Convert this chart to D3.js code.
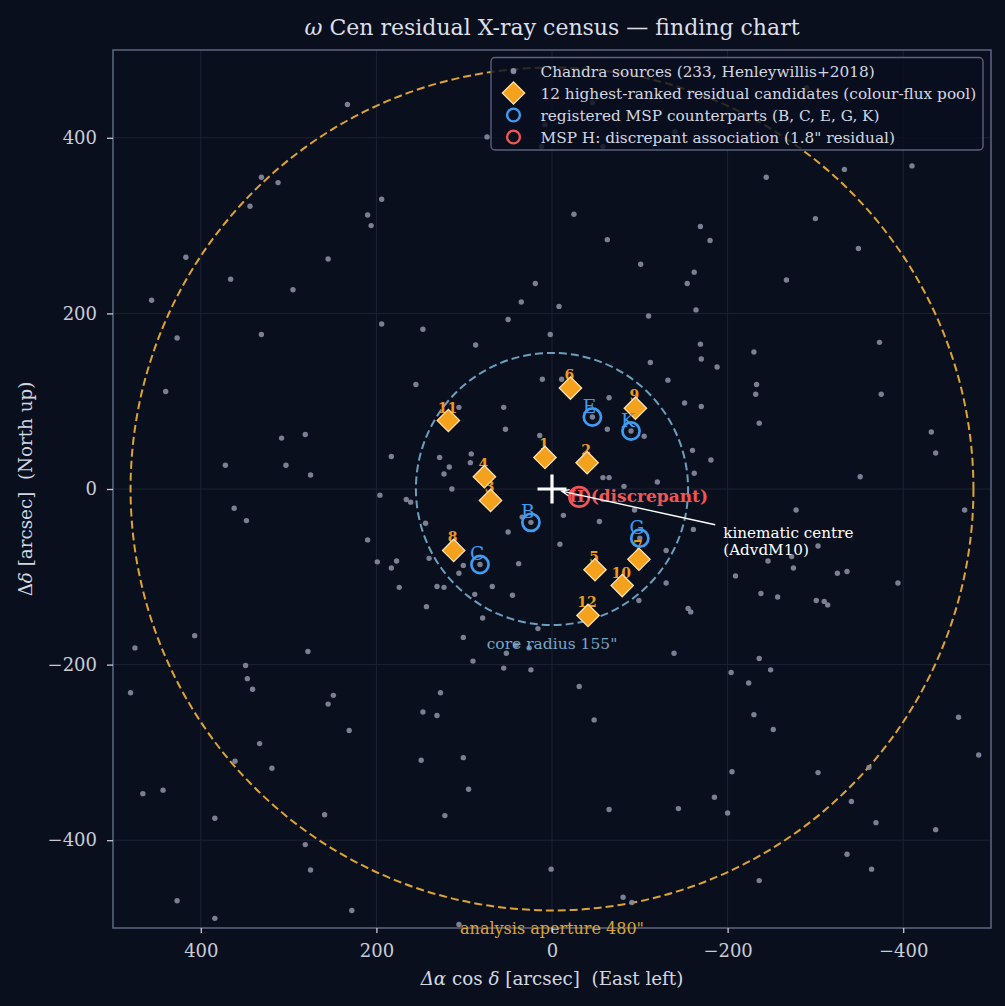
<!DOCTYPE html>
<html>
<head>
<meta charset="utf-8">
<script src="https://cdn.jsdelivr.net/npm/d3@7"></script>
<style>
  html, body { margin: 0; padding: 0; background: #0a0f1e; }
  svg { display: block; font-family: "DejaVu Serif", serif; }
</style>
</head>
<body>
<div id="chart"></div>
<script>
const sources = [
  [233,438],[44,475],[8,415],[74,401],[12,390],[331,355],[312,349],[344,322],[194,330],[210,312],
  [206,300],[417,264],[366,239],[255,262],[295,227],[456,215],[19,234],[35,213],[50,193],[2,176],
  [427,172],[331,176],[194,188],[147,182],[87,164],[440,111],[155,119],[11,125],[55,93],[53,68],
  [14,61],[106,93],[308,58],[281,62],[372,27],[303,27],[275,16],[183,37],[128,36],[92,40],
  [93,30],[117,25],[123,17],[114,0],[-46,440],[-290,457],[-140,407],[-58,390],[-333,364],[-410,368],
  [-244,355],[-25,313],[-300,308],[-169,299],[-63,284],[-180,283],[-349,274],[-101,256],[-162,247],[-154,234],
  [-267,238],[-8,208],[-164,204],[-110,197],[-169,165],[-170,148],[-188,139],[-112,144],[-230,156],[-373,167],
  [-132,124],[-233,119],[-232,108],[-375,108],[-151,98],[-170,94],[-65,104],[-11,125],[-63,68],[-105,60],
  [-160,44],[-181,33],[-162,18],[-58,13],[-65,13],[-82,3],[-120,8],[-236,75],[-351,14],[-432,65],
  [-437,41],[-46,82],[-90,66],[362,-22],[348,-36],[196,-7],[166,-12],[161,-15],[210,-58],[199,-83],
  [177,-82],[183,-90],[174,-112],[144,-39],[50,-49],[140,-79],[101,-87],[106,-96],[38,-85],[131,-111],
  [123,-112],[68,-111],[88,-120],[45,-121],[143,-134],[79,-147],[16,-159],[101,-169],[41,-178],[52,-187],
  [26,-181],[90,-196],[55,-204],[24,-206],[407,-167],[475,-181],[278,-185],[480,-232],[349,-201],[347,-216],
  [341,-228],[249,-235],[255,-245],[231,-275],[127,-232],[147,-254],[131,-258],[333,-290],[361,-310],[319,-318],
  [149,-309],[101,-306],[95,-342],[466,-347],[443,-343],[384,-375],[259,-371],[122,-372],[281,-405],[275,-434],
  [427,-469],[384,-489],[228,-480],[106,-496],[1,-433],[24,-38],[82,-86],[34,-32],[-13,-30],[-54,-37],
  [-94,-24],[-161,-46],[-9,-63],[-100,-56],[-130,-70],[-130,-107],[-99,-127],[-155,-136],[-158,-140],[-139,-187],
  [-278,-24],[-303,-65],[-273,-77],[-246,-82],[-275,-90],[-209,-99],[-325,-96],[-336,-94],[-394,-107],[-238,-119],
  [-257,-123],[-301,-127],[-310,-128],[-314,-132],[-470,-24],[-236,-193],[-204,-209],[-249,-206],[-224,-221],[-31,-225],
  [-230,-257],[-252,-274],[-48,-263],[-463,-260],[-486,-303],[-205,-322],[-303,-323],[-361,-317],[-65,-365],[-144,-364],
  [-185,-351],[-200,-369],[-341,-356],[-369,-380],[-437,-388],[-336,-416],[-364,-433],[-236,-446],[-81,-465],[-91,-471]
];

// 12 candidatos residuales (rango, x, y)
const candRank = [1, 2, 3, 4, 5, 6, 7, 8, 9, 10, 11, 12];
const candX = [8, -40, 70, 77, -49, -21, -99, 112, -95, -80, 118, -41];
const candY = [36, 30, -13, 14, -92, 115, -80, -70, 92, -110, 78, -144];

// Contrapartes MSP registradas
const mspNames = ['B', 'C', 'E', 'G', 'K'];
const mspX = [24, 82, -46, -100, -90];
const mspY = [-38, -86, 82, -56, 66];

const mspH = [-31, -9];
const centre = [0, 0];
const noteAnchor = [-195, -59];

const coreRadius = 155;
const apertureRadius = 480;
const tickValues = [400, 200, 0, -200, -400];

const legendLabels = [
  'Chandra sources (233, Henleywillis+2018)',
  '12 highest-ranked residual candidates (colour-flux pool)',
  'registered MSP counterparts (B, C, E, G, K)',
  'MSP H: discrepant association (1.8" residual)'
];

const BG = '#0a0f1e';
const DOT = '#878ca0';
const NARANJA = '#f4a11d';
const CREMA = '#ffe2ad';
const AZUL = '#3f9cf3';
const ROJO = '#f25555';
const CORE = '#6c9fbf';
const ORO = '#dea432';
const TXT = '#d3d7e1';
const SPINE = '#58617d';

(function () {
  const W = 1005, H = 1006;
  const M = { left: 113, top: 50, right: 991, bottom: 928 };

  const svg = d3.select('#chart').append('svg')
    .attr('width', W).attr('height', H);

  svg.append('rect').attr('width', W).attr('height', H).attr('fill', BG);

  const x = d3.scaleLinear().domain([500, -500]).range([M.left, M.right]);
  const y = d3.scaleLinear().domain([-500, 500]).range([M.bottom, M.top]);
  const px = (r) => Math.abs(x(r) - x(0));

  svg.append('defs').append('clipPath').attr('id', 'plot')
    .append('rect')
    .attr('x', M.left).attr('y', M.top)
    .attr('width', M.right - M.left).attr('height', M.bottom - M.top);

  // rejilla
  const grid = svg.append('g');
  grid.selectAll('line.gx').data(tickValues).enter().append('line')
    .attr('x1', (d) => x(d)).attr('x2', (d) => x(d))
    .attr('y1', M.top).attr('y2', M.bottom)
    .attr('stroke', '#1c2335').attr('stroke-width', 1);
  grid.selectAll('line.gy').data(tickValues).enter().append('line')
    .attr('y1', (d) => y(d)).attr('y2', (d) => y(d))
    .attr('x1', M.left).attr('x2', M.right)
    .attr('stroke', '#1c2335').attr('stroke-width', 1);

  const plot = svg.append('g').attr('clip-path', 'url(#plot)');

  // apertura y radio de núcleo
  plot.append('circle')
    .attr('cx', x(0)).attr('cy', y(0)).attr('r', px(apertureRadius))
    .attr('fill', 'none').attr('stroke', ORO).attr('stroke-width', 2)
    .attr('stroke-dasharray', '8,4');
  plot.append('circle')
    .attr('cx', x(0)).attr('cy', y(0)).attr('r', px(coreRadius))
    .attr('fill', 'none').attr('stroke', CORE).attr('stroke-width', 2)
    .attr('stroke-dasharray', '8,4');

  // fuentes
  plot.selectAll('circle.src').data(sources).enter().append('circle')
    .attr('class', 'src')
    .attr('cx', (d) => x(d[0])).attr('cy', (d) => y(d[1]))
    .attr('r', 2.7).attr('fill', DOT).attr('opacity', 0.9);

  // etiquetas de rango, debajo de los rombos
  plot.selectAll('text.rank').data(candRank).enter().append('text')
    .attr('x', (d, i) => x(candX[i]) - 1)
    .attr('y', (d, i) => y(candY[i]) - 8)
    .attr('text-anchor', 'middle')
    .attr('font-size', 14).attr('font-weight', 'bold')
    .attr('fill', '#ec9a1c')
    .text((d) => d);

  const diamante = d3.symbol().type(d3.symbolSquare).size(250);
  plot.selectAll('path.cand').data(candRank).enter().append('path')
    .attr('d', diamante)
    .attr('transform', (d, i) => `translate(${x(candX[i])},${y(candY[i])}) rotate(45)`)
    .attr('fill', NARANJA).attr('stroke', CREMA).attr('stroke-width', 1.3);

  // MSP
  plot.selectAll('text.msp').data(mspNames).enter().append('text')
    .attr('x', (d, i) => x(mspX[i]) - 3)
    .attr('y', (d, i) => y(mspY[i]) - 4.5)
    .attr('text-anchor', 'middle')
    .attr('font-size', 18.5)
    .attr('fill', AZUL)
    .text((d) => d);
  plot.selectAll('circle.msp').data(mspNames).enter().append('circle')
    .attr('cx', (d, i) => x(mspX[i])).attr('cy', (d, i) => y(mspY[i]))
    .attr('r', 8.6).attr('fill', 'none')
    .attr('stroke', AZUL).attr('stroke-width', 2.7);

  plot.append('circle')
    .attr('cx', x(mspH[0])).attr('cy', y(mspH[1]))
    .attr('r', 9.8).attr('fill', 'none')
    .attr('stroke', ROJO).attr('stroke-width', 2.7);
  plot.append('text')
    .attr('x', x(mspH[0]) - 10.5).attr('y', y(mspH[1]) + 5)
    .attr('font-size', 17).attr('font-weight', 'bold')
    .attr('fill', ROJO)
    .text('H (discrepant)');

  // centro cinemático
  const cx0 = x(centre[0]), cy0 = y(centre[1]);
  plot.append('path')
    .attr('d', `M${cx0 - 14.5},${cy0}H${cx0 + 14.5}M${cx0},${cy0 - 14.5}V${cy0 + 14.5}`)
    .attr('stroke', '#ffffff').attr('stroke-width', 3.2);

  // anotación con flecha
  const tx = x(noteAnchor[0]), ty = y(noteAnchor[1]);
  const bx = tx + 65, by = ty;
  const ang = Math.atan2(by - cy0, bx - cx0);
  const tipX = cx0 + 10 * Math.cos(ang), tipY = cy0 + 10 * Math.sin(ang);
  const t = (tx - 8 - cx0) / (bx - cx0);
  const sX = cx0 + t * (bx - cx0), sY = cy0 + t * (by - cy0);
  const brazo = 8, abre = 0.4;
  plot.append('path')
    .attr('d', `M${sX},${sY}L${tipX},${tipY}` +
      `M${tipX + brazo * Math.cos(ang + abre)},${tipY + brazo * Math.sin(ang + abre)}` +
      `L${tipX},${tipY}` +
      `L${tipX + brazo * Math.cos(ang - abre)},${tipY + brazo * Math.sin(ang - abre)}`)
    .attr('fill', 'none').attr('stroke', '#ffffff').attr('stroke-width', 1.4);
  const nota = plot.append('text').attr('font-size', 15.2).attr('fill', '#ffffff');
  nota.append('tspan').attr('x', tx).attr('y', ty - 3).text('kinematic centre');
  nota.append('tspan').attr('x', tx).attr('y', ty + 13.8).text('(AdvdM10)');

  plot.append('text')
    .attr('x', x(0)).attr('y', y(-coreRadius) + 24)
    .attr('text-anchor', 'middle').attr('font-size', 15.5)
    .attr('fill', '#78a6c6')
    .text('core radius 155"');

  // marco
  svg.append('rect')
    .attr('x', M.left).attr('y', M.top)
    .attr('width', M.right - M.left).attr('height', M.bottom - M.top)
    .attr('fill', 'none').attr('stroke', SPINE).attr('stroke-width', 1.6);

  svg.append('text')
    .attr('x', x(0)).attr('y', M.bottom + 6)
    .attr('text-anchor', 'middle').attr('font-size', 16)
    .attr('fill', ORO)
    .text('analysis aperture 480"');

  // ejes
  const ejeX = svg.append('g').attr('transform', `translate(0,${M.bottom})`)
    .call(d3.axisBottom(x).tickValues(tickValues).tickSize(5).tickSizeOuter(0).tickPadding(11));
  const ejeY = svg.append('g').attr('transform', `translate(${M.left},0)`)
    .call(d3.axisLeft(y).tickValues(tickValues).tickSize(6).tickSizeOuter(0).tickPadding(10));
  [ejeX, ejeY].forEach((g) => {
    g.select('.domain').remove();
    g.selectAll('line').attr('stroke', '#c5cad6').attr('stroke-width', 1.3);
    g.selectAll('text').attr('fill', '#c8ccd7').attr('font-size', 18)
      .attr('font-family', '"DejaVu Serif", serif');
  });

  svg.append('text')
    .attr('x', x(0)).attr('y', 985)
    .attr('text-anchor', 'middle').attr('font-size', 18.3).attr('fill', TXT)
    .attr('xml:space', 'preserve')
    .html('<tspan font-style="italic">Δα</tspan> cos<tspan font-style="italic"> δ</tspan> [arcsec]  (East left)');

  svg.append('text')
    .attr('transform', `translate(32,${y(0)}) rotate(-90)`)
    .attr('text-anchor', 'middle').attr('font-size', 18.3).attr('fill', TXT)
    .attr('xml:space', 'preserve')
    .html('Δ<tspan font-style="italic">δ</tspan> [arcsec]  (North up)');

  svg.append('text')
    .attr('x', x(0)).attr('y', 34.5)
    .attr('text-anchor', 'middle').attr('font-size', 22).attr('fill', '#dcdfe8')
    .html('<tspan font-style="italic">ω</tspan> Cen residual X-ray census — finding chart');

  // leyenda
  const ley = svg.append('g');
  ley.append('rect')
    .attr('x', 491).attr('y', 57.5).attr('width', 492).attr('height', 92.5)
    .attr('rx', 4).attr('fill', BG).attr('fill-opacity', 0.82)
    .attr('stroke', SPINE).attr('stroke-width', 1.4);
  const filaY = (i) => 71 + i * 22;
  const mx = 513.5;
  ley.append('circle').attr('cx', mx).attr('cy', filaY(0)).attr('r', 2.9).attr('fill', DOT);
  ley.append('path').attr('d', diamante)
    .attr('transform', `translate(${mx},${filaY(1)}) rotate(45)`)
    .attr('fill', NARANJA).attr('stroke', CREMA).attr('stroke-width', 1.3);
  ley.append('circle').attr('cx', mx).attr('cy', filaY(2)).attr('r', 6.4)
    .attr('fill', 'none').attr('stroke', AZUL).attr('stroke-width', 2.4);
  ley.append('circle').attr('cx', mx).attr('cy', filaY(3)).attr('r', 6.4)
    .attr('fill', 'none').attr('stroke', ROJO).attr('stroke-width', 2.4);
  ley.selectAll('text').data(legendLabels).enter().append('text')
    .attr('x', 540.5).attr('y', (d, i) => filaY(i) + 5.5)
    .attr('font-size', 15.3).attr('fill', TXT)
    .text((d) => d);
})();
</script>
</body>
</html>
